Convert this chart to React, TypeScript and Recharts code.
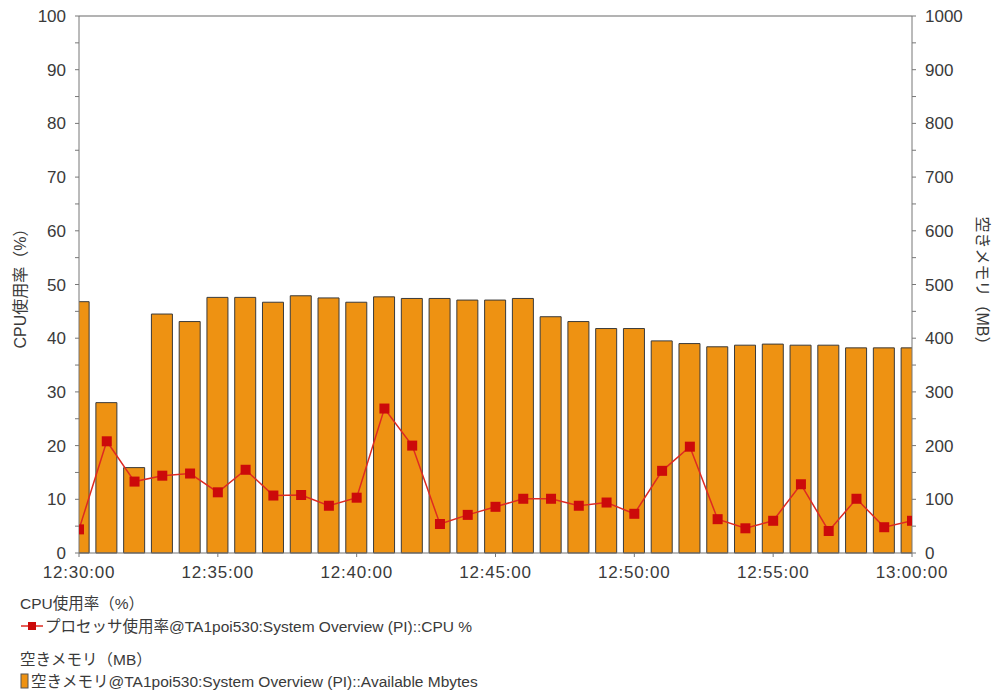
import React from 'react';
import {
  ComposedChart,
  Bar,
  Line,
  XAxis,
  YAxis,
  ReferenceLine,
} from 'recharts';

// one sample per minute, 12:30:00 .. 13:00:00
const times = [
  '12:30:00', '12:31:00', '12:32:00', '12:33:00', '12:34:00', '12:35:00',
  '12:36:00', '12:37:00', '12:38:00', '12:39:00', '12:40:00', '12:41:00',
  '12:42:00', '12:43:00', '12:44:00', '12:45:00', '12:46:00', '12:47:00',
  '12:48:00', '12:49:00', '12:50:00', '12:51:00', '12:52:00', '12:53:00',
  '12:54:00', '12:55:00', '12:56:00', '12:57:00', '12:58:00', '12:59:00',
  '13:00:00',
];

// プロセッサ使用率 (%)
const cpuPercent = [
  4.4, 20.8, 13.3, 14.4, 14.8, 11.3, 15.5, 10.7, 10.8, 8.8,
  10.3, 26.9, 20.0, 5.4, 7.1, 8.6, 10.1, 10.1, 8.8, 9.4,
  7.3, 15.3, 19.8, 6.3, 4.6, 6.0, 12.8, 4.1, 10.1, 4.8,
  6.0,
];

// 空きメモリ (MB)
const availableMb = [
  468, 280, 159, 445, 431, 476, 476, 467, 479, 475,
  467, 477, 474, 474, 471, 471, 474, 440, 431, 418,
  418, 395, 390, 384, 387, 389, 387, 387, 382, 382,
  382,
];

const xTicks = [0, 5, 10, 15, 20, 25, 30];
const cpuTicks = [0, 5, 10, 15, 20, 25, 30, 35, 40, 45, 50, 55, 60, 65, 70, 75, 80, 85, 90, 95, 100];
const memTicks = [0, 50, 100, 150, 200, 250, 300, 350, 400, 450, 500, 550, 600, 650, 700, 750, 800, 850, 900, 950, 1000];

const data = times.map((label, i) => ({
  t: i,
  label,
  cpu: cpuPercent[i],
  mem: availableMb[i],
}));

const LINE_RED = '#de2a22';
const MARK_RED = '#cc0a0a';
const BAR_ORANGE = '#ee9212';
const AXIS = '#777';
const TEXT = '#3a3a3a';
const TICK_FONT = { fontFamily: 'Liberation Sans, Arial, sans-serif', fontSize: 17, fill: TEXT };
const JP_FONT = '"Liberation Sans", "Noto Sans CJK JP", sans-serif';

const SquareDot = (props: any) => {
  const { cx, cy } = props;
  if (cx == null || cy == null) return null;
  return <rect x={cx - 5} y={cy - 5} width={10} height={10} fill={MARK_RED} />;
};

// labels only on every second tick; the others are minor ticks
const MajorTick = (step: number, anchor: 'start' | 'end', dx: number) => (props: any) => {
  const { x, y, payload } = props;
  if (payload.value % step !== 0) return <g />;
  return (
    <text x={x + dx} y={y} dy={6} textAnchor={anchor} {...TICK_FONT}>
      {payload.value}
    </text>
  );
};

const TimeTick = (props: any) => {
  const { x, y, payload } = props;
  return (
    <text x={x} y={y + 19} textAnchor="middle" letterSpacing={0.8} {...TICK_FONT}>
      {times[payload.value]}
    </text>
  );
};

const AxisTitle = (text: string, xPos: number, angle: number) => (props: any) => {
  const vb = props.viewBox;
  const cy = vb.y + vb.height / 2;
  return (
    <text
      x={xPos}
      y={cy}
      transform={`rotate(${angle}, ${xPos}, ${cy})`}
      textAnchor="middle"
      dominantBaseline="central"
      fontFamily={JP_FONT}
      fontSize={16}
      fill={TEXT}
    >
      {text}
    </text>
  );
};

const legendText: React.CSSProperties = {
  position: 'absolute',
  left: 20,
  fontFamily: JP_FONT,
  fontSize: 15.5,
  color: TEXT,
  whiteSpace: 'nowrap',
  lineHeight: '20px',
};

export default function App() {
  return (
    <div style={{ position: 'absolute', left: 0, top: 0, width: 995, height: 695, background: '#fff' }}>
      <ComposedChart
        width={995}
        height={600}
        data={data}
        margin={{ top: 16, right: 0, bottom: 17, left: 0 }}
      >
        <XAxis
          dataKey="t"
          type="number"
          domain={[0, 30]}
          ticks={xTicks}
          allowDataOverflow
          height={30}
          stroke={AXIS}
          tickSize={4}
          tick={<TimeTick />}
          interval={0}
        />
        <YAxis
          yAxisId="cpu"
          orientation="left"
          domain={[0, 100]}
          ticks={cpuTicks}
          width={79}
          stroke={AXIS}
          tickSize={4}
          interval={0}
          tick={MajorTick(10, 'end', -7)}
          label={AxisTitle('CPU使用率（%）', 20, -90)}
        />
        <YAxis
          yAxisId="mem"
          orientation="right"
          domain={[0, 1000]}
          ticks={memTicks}
          width={83}
          stroke={AXIS}
          tickSize={4}
          interval={0}
          tick={MajorTick(100, 'start', 7)}
          label={AxisTitle('空きメモリ（MB）', 982, 90)}
        />
        <ReferenceLine yAxisId="cpu" y={100} stroke="#9a9a9a" strokeWidth={1.5} />
        <Bar
          yAxisId="mem"
          dataKey="mem"
          barSize={21}
          fill={BAR_ORANGE}
          stroke="#3a3a3a"
          strokeWidth={1}
          isAnimationActive={false}
        />
        <Line
          yAxisId="cpu"
          dataKey="cpu"
          stroke={LINE_RED}
          strokeWidth={1.5}
          dot={<SquareDot />}
          activeDot={false}
          isAnimationActive={false}
        />
      </ComposedChart>

      <div style={{ ...legendText, top: 594 }}>CPU使用率（%）</div>
      <div style={{ ...legendText, top: 617, left: 20 }}>
        <svg width={24} height={14} style={{ verticalAlign: 'middle', marginRight: 1, marginTop: -3 }}>
          <line x1={1} y1={7} x2={23} y2={7} stroke={LINE_RED} strokeWidth={1.5} />
          <rect x={8} y={3} width={8} height={8} fill={MARK_RED} />
        </svg>
        プロセッサ使用率@TA1poi530:System Overview (PI)::CPU %
      </div>
      <div style={{ ...legendText, top: 650 }}>空きメモリ（MB）</div>
      <div style={{ ...legendText, top: 672 }}>
        <svg width={10} height={16} style={{ verticalAlign: 'middle', marginRight: 1, marginTop: -3 }}>
          <rect x={1} y={1} width={7} height={14} fill={BAR_ORANGE} stroke="#555" strokeWidth={1} />
        </svg>
        空きメモリ@TA1poi530:System Overview (PI)::Available Mbytes
      </div>
    </div>
  );
}
